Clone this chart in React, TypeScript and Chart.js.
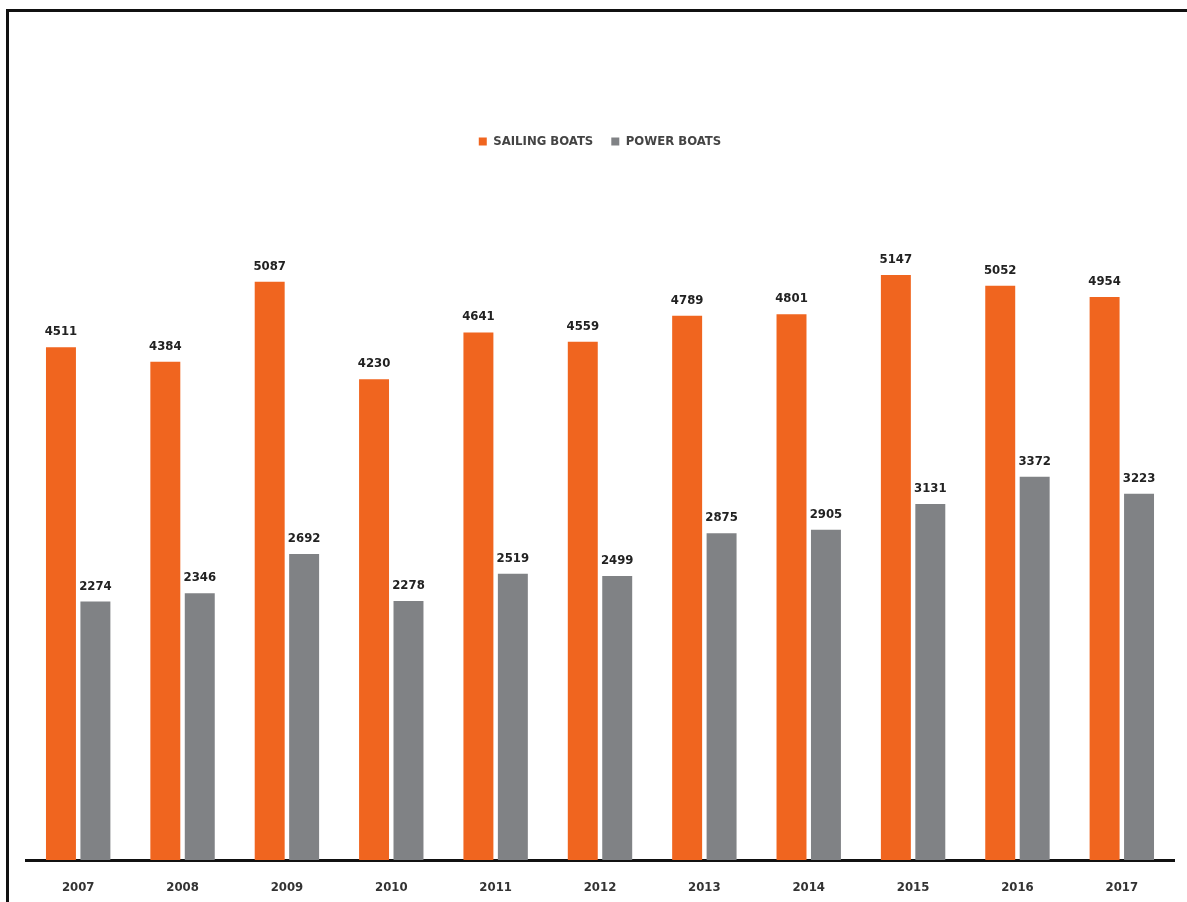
import React, { useEffect, useRef } from "react";
import { Chart, registerables } from "chart.js";

Chart.register(...registerables);

const years = ["2007", "2008", "2009", "2010", "2011", "2012", "2013", "2014", "2015", "2016", "2017"];
const sailingBoats = [4511, 4384, 5087, 4230, 4641, 4559, 4789, 4801, 5147, 5052, 4954];
const powerBoats = [2274, 2346, 2692, 2278, 2519, 2499, 2875, 2905, 3131, 3372, 3223];
const seriesNames = ["SAILING BOATS", "POWER BOATS"];
const colors = ["#F0651F", "#808285"];

const LABEL_FONT = "bold 13px 'DejaVu Sans Condensed', 'DejaVu Sans', sans-serif";

const valueLabels = {
  id: "valueLabels",
  afterDatasetsDraw(chart: any) {
    const ctx = chart.ctx;
    ctx.save();
    ctx.font = LABEL_FONT;
    ctx.fillStyle = "#222";
    ctx.textAlign = "center";
    ctx.textBaseline = "alphabetic";
    chart.data.datasets.forEach((ds: any, i: number) => {
      const meta = chart.getDatasetMeta(i);
      meta.data.forEach((bar: any, j: number) => {
        ctx.fillText(String(ds.data[j]), bar.x, bar.y - 12);
      });
    });
    ctx.restore();
  },
};

const legendHeight = {
  id: "legendHeight",
  beforeInit(chart: any) {
    const orig = chart.legend.fit;
    chart.legend.fit = function () {
      orig.call(this);
      this.height = 61;
    };
  },
};

export default function App() {
  const ref = useRef<HTMLCanvasElement | null>(null);
  useEffect(() => {
    if (!ref.current) return;
    const chart = new Chart(ref.current, {
      type: "bar",
      data: {
        labels: years,
        datasets: [
          { label: seriesNames[0], data: sailingBoats, backgroundColor: colors[0], categoryPercentage: 0.66, barPercentage: 0.87 },
          { label: seriesNames[1], data: powerBoats, backgroundColor: colors[1], categoryPercentage: 0.66, barPercentage: 0.87 },
        ],
      },
      options: {
        animation: false,
        responsive: false,
        maintainAspectRatio: false,
        layout: { padding: { left: 26, right: 13, top: 117, bottom: 0 } },
        plugins: {
          legend: {
            display: true,
            position: "top",
            labels: {
              boxWidth: 8,
              boxHeight: 8,
              padding: 18,
              color: "#444",
              font: { family: "'DejaVu Sans Condensed', 'DejaVu Sans', sans-serif", size: 13, weight: "bold" },
            },
          },
          tooltip: { enabled: false },
        },
        scales: {
          x: {
            grid: { display: false, drawTicks: false },
            border: { display: true, color: "#111", width: 3 },
            ticks: {
              padding: 20,
              color: "#333",
              font: { family: "'DejaVu Sans Condensed', 'DejaVu Sans', sans-serif", size: 13, weight: "bold" },
            },
            afterFit(scale: any) {
              scale.height = 42;
            },
          },
          y: {
            display: false,
            min: 0,
            max: 6000,
          },
        },
      },
      plugins: [valueLabels, legendHeight],
    });
    return () => chart.destroy();
  }, []);

  return (
    <div style={{ position: "fixed", left: 0, top: 0, width: 1187, height: 902, background: "#fff", overflow: "hidden" }}>
      <canvas ref={ref} width={1187} height={902} style={{ position: "absolute", left: 0, top: 0, width: 1187, height: 902 }} />
      <div style={{ position: "absolute", left: 6, top: 9, width: 1181, height: 3, background: "#111" }} />
      <div style={{ position: "absolute", left: 6, top: 9, width: 3, height: 893, background: "#111" }} />
    </div>
  );
}
